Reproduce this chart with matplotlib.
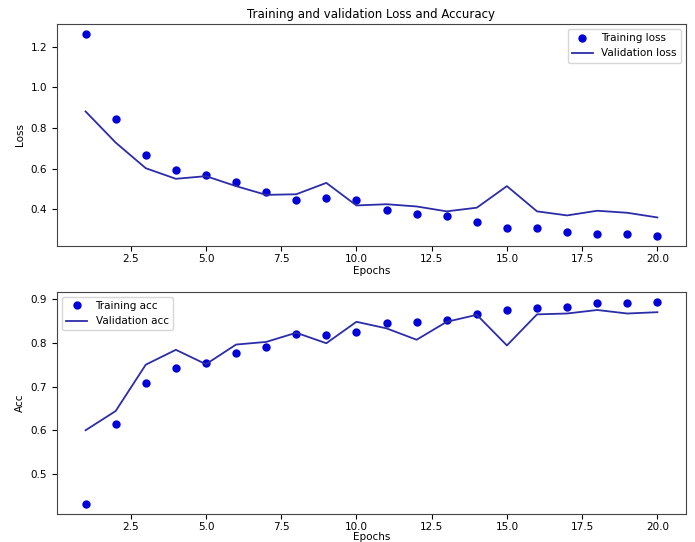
import matplotlib

matplotlib.use("Agg")
import matplotlib.pyplot as plt

epochs = list(range(1, 21))

train_loss = [1.262, 0.844, 0.669, 0.591, 0.569, 0.533, 0.483, 0.444, 0.458, 0.444,
              0.398, 0.378, 0.368, 0.336, 0.306, 0.309, 0.288, 0.278, 0.278, 0.269]
val_loss = [0.881, 0.728, 0.602, 0.550, 0.563, 0.514, 0.471, 0.474, 0.530, 0.419,
            0.425, 0.414, 0.390, 0.408, 0.514, 0.390, 0.370, 0.393, 0.383, 0.360]

train_acc = [0.432, 0.614, 0.708, 0.743, 0.754, 0.776, 0.791, 0.820, 0.818, 0.824,
             0.845, 0.847, 0.851, 0.867, 0.876, 0.880, 0.882, 0.891, 0.892, 0.894]
val_acc = [0.600, 0.644, 0.750, 0.784, 0.751, 0.796, 0.802, 0.823, 0.799, 0.848,
           0.833, 0.807, 0.848, 0.864, 0.794, 0.865, 0.867, 0.875, 0.867, 0.870]

dot_color = "#0000d8"
line_color = "#2c2ca8"

plt.rcParams["font.size"] = 7.5
plt.rcParams["axes.edgecolor"] = "#444444"
plt.rcParams["xtick.major.pad"] = 2.5

fig = plt.figure(figsize=(6.95, 5.42), dpi=100)
ax1 = fig.add_axes([0.082, 0.546, 0.905, 0.410])
ax2 = fig.add_axes([0.082, 0.052, 0.905, 0.410])

ax1.plot(epochs, train_loss, "o", ms=5, color=dot_color, label="Training loss")
ax1.plot(epochs, val_loss, "-", lw=1.3, color=line_color, label="Validation loss")
ax1.set_title("Training and validation Loss and Accuracy", fontsize=8.5, pad=4)
ax1.set_xlabel("Epochs", labelpad=1)
ax1.set_ylabel("Loss")
ax1.legend(loc="upper right")

ax2.plot(epochs, train_acc, "o", ms=5, color=dot_color, label="Training acc")
ax2.plot(epochs, val_acc, "-", lw=1.3, color=line_color, label="Validation acc")
ax2.set_xlabel("Epochs", labelpad=0)
ax2.set_ylabel("Acc")
ax2.legend(loc="upper left")

fig.savefig("out.png", dpi=100)
